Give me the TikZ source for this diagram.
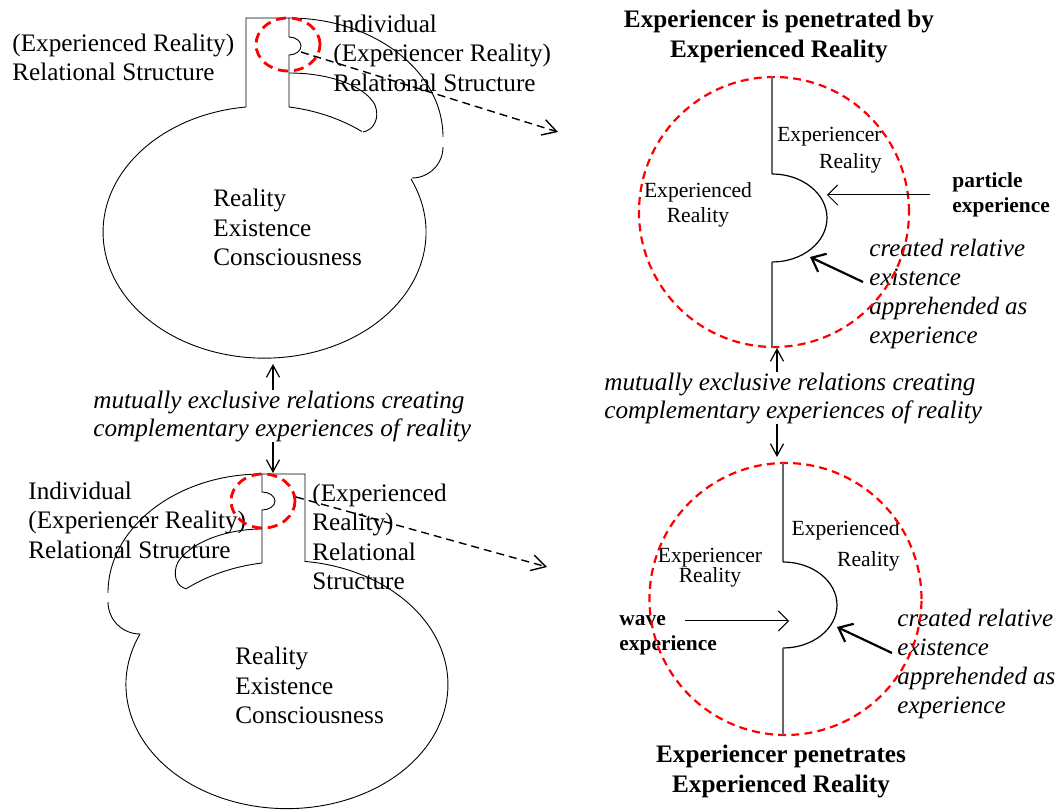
\documentclass[tikz,border=0pt]{standalone}
\usepackage{fontspec}
\setmainfont{Liberation Serif}
\usetikzlibrary{arrows.meta}

\begin{document}
\begin{tikzpicture}[x=0.5pt,y=0.5pt,
  line/.style={line width=0.45pt},
  grayline/.style={draw=black!60, line width=0.7pt},
  ring/.style={draw=red, line width=1.1pt, dash pattern=on 4pt off 2.6pt},
  spot/.style={draw=red, line width=1.4pt, dash pattern=on 5pt off 3pt},
  txt/.style={inner sep=0pt, align=left, font=\fontsize{12.6}{14.75}\selectfont},
  bridge/.style={inner sep=0pt, align=left, font=\fontsize{12.6}{14}\selectfont\itshape},
  small/.style={inner sep=0pt, font=\fontsize{10.8}{12.5}\selectfont},
  head/.style={inner sep=0pt, align=center, font=\fontsize{12.6}{15}\selectfont\bfseries},
  kind/.style={inner sep=0pt, align=left, font=\fontsize{10.7}{12.5}\selectfont\bfseries},
  note/.style={inner sep=0pt, align=left, font=\fontsize{12.5}{14.6}\selectfont\itshape},
  thin/.style={line width=0.5pt, -{Straight Barb[length=5pt,width=10pt]}},
  thick/.style={line width=1.1pt, -{Straight Barb[length=6pt,width=10pt]}},
  zoomarrow/.style={line width=0.7pt, dash pattern=on 4pt off 2.5pt, -{Straight Barb[length=7pt,width=8pt]}},
  link/.style={line width=0.6pt, -{Straight Barb[length=6pt,width=6.5pt]}}]
\useasboundingbox (0,0) rectangle (1062,-812);

\path (213,-227.5) node[txt,anchor=west](coreA){Reality\\Existence\\Consciousness}
  (12,-57.5) node[txt,anchor=west](relA){(Experienced Reality)\\Relational Structure}
  (333,-53) node[txt,anchor=west](indA){Individual\\(Experiencer Reality)\\Relational Structure}
  (235,-685.5) node[txt,anchor=west](coreB){Reality\\Existence\\Consciousness}
  (28,-520) node[txt,anchor=west](indB){Individual\\(Experiencer Reality)\\Relational Structure}
  (312,-537) node[txt,anchor=west](relB){(Experienced\\Reality)\\Relational\\Structure}
  (93,-416) node[bridge,anchor=west](bridgeA){mutually exclusive relations creating\\complementary experiences of reality}
  (604,-398) node[bridge,anchor=west](bridgeB){mutually exclusive relations creating\\complementary experiences of reality};

\path (779,-36) node[head](titleA){Experiencer is penetrated by\\Experienced Reality}
  (882,-150.5) node[small,align=right,anchor=east](expcrA){Experiencer\\[1pt]Reality}
  (698,-204.5) node[small,align=center](expcdA){Experienced\\Reality}
  (952,-194.5) node[kind,anchor=west](particle){particle\\experience}
  (869,-294) node[note,anchor=west](noteA){created relative\\existence\\apprehended as\\experience}
  (900,-545.5) node[small,align=right,anchor=east](expcdB){Experienced\\[3pt]Reality}
  (710,-568) node[small,align=center](expcrB){Experiencer\\[-2.5pt]Reality}
  (619,-635.5) node[kind,anchor=west](wave){wave\\experience}
  (897,-664) node[note,anchor=west](noteB){created relative\\existence\\apprehended as\\experience}
  (781,-771) node[head](titleB){Experiencer penetrates\\Experienced Reality};

\node[ring,circle,inner sep=0pt,minimum size=135pt](ringA) at (774,-212){};
\node[ring,circle,inner sep=0pt,minimum size=136pt](ringB) at (785.5,-599){};

\coordinate (zoomA) at (301,-52);
\coordinate (zoomAend) at (558,-132);
\coordinate (zoomB) at (296,-497);
\coordinate (zoomBend) at (547,-567);
\coordinate (coreAbot) at (273,-364);
\coordinate (stemBtop) at (273,-473);
\coordinate (ringAbot) at (777,-348);
\coordinate (ringBtop) at (777,-457);
\coordinate (partStart) at (930,-195);
\coordinate (bulgeA) at (827,-195);
\coordinate (waveStart) at (685,-621);
\coordinate (bulgeB) at (789,-621);
\coordinate (noteAstart) at (863,-282);
\coordinate (seamA) at (810,-257);
\coordinate (noteBstart) at (892,-653);
\coordinate (seamB) at (837,-627);

\draw[line] (246,-107) -- (246,-18) -- (289,-18) -- (289,-37)
  arc[start angle=90,end angle=-90,x radius=12,y radius=9] -- (289,-107)
  arc[start angle=80.9,end angle=52.4,x radius=161.5,y radius=126];
\draw[line] (289,-73) .. controls (330,-73) and (365,-86) .. (375,-105)
  .. controls (380,-118) and (374,-130) .. (363,-132);
\draw[line] (246,-107) arc[start angle=96.6,end angle=385,x radius=161.5,y radius=126];
\draw[line] (289,-18) arc[start angle=90,end angle=0,x radius=154,y radius=119];
\draw[line] (443,-147) arc[start angle=0,end angle=-90,radius=31];
\draw[spot] (288,-44.5) ellipse[x radius=32,y radius=26.5];

\draw[line] (262,-563) -- (262,-510)
  arc[start angle=-90,end angle=90,x radius=13,y radius=9] -- (262,-474) -- (305,-474) -- (305,-562);
\draw[line] (262,-563) arc[start angle=98.9,end angle=128.4,x radius=161,y radius=124];
\draw[line] (262,-529) .. controls (225,-529) and (190,-543) .. (178,-562)
  .. controls (172,-574) and (176,-587) .. (187,-589);
\draw[line] (140,-634) arc[start angle=155.9,end angle=443.6,x radius=161,y radius=124];
\draw[line] (262,-474) arc[start angle=90,end angle=180,x radius=154,y radius=119];
\draw[line] (108,-602) arc[start angle=180,end angle=270,radius=32];
\draw[spot] (263,-501) ellipse[x radius=32,y radius=27];

\draw[grayline] (772,-76) -- (772,-174);
\draw[line,line width=0.6pt] (772,-174) arc[start angle=90,end angle=-90,x radius=55,y radius=44];
\draw[grayline] (772,-262) -- (772,-348);
\draw[grayline] (783,-463) -- (783,-562);
\draw[line,line width=0.6pt] (783,-562) arc[start angle=90,end angle=-90,x radius=54,y radius=43];
\draw[grayline] (783,-648) -- (783,-735);

\draw[zoomarrow] (zoomA) -- (zoomAend);
\draw[zoomarrow] (zoomB) -- (zoomBend);
\draw[link] (bridgeA.north -| coreAbot) -- (coreAbot);
\draw[link] (bridgeA.south -| stemBtop) -- (stemBtop);
\draw[link] (bridgeB.north -| ringAbot) -- (ringAbot);
\draw[link] (bridgeB.south -| ringBtop) -- (ringBtop);
\draw[thin] (partStart) -- (bulgeA);
\draw[thin] (waveStart) -- (bulgeB);
\draw[thick] (noteAstart) -- (seamA);
\draw[thick] (noteBstart) -- (seamB);
\end{tikzpicture}
\end{document}
